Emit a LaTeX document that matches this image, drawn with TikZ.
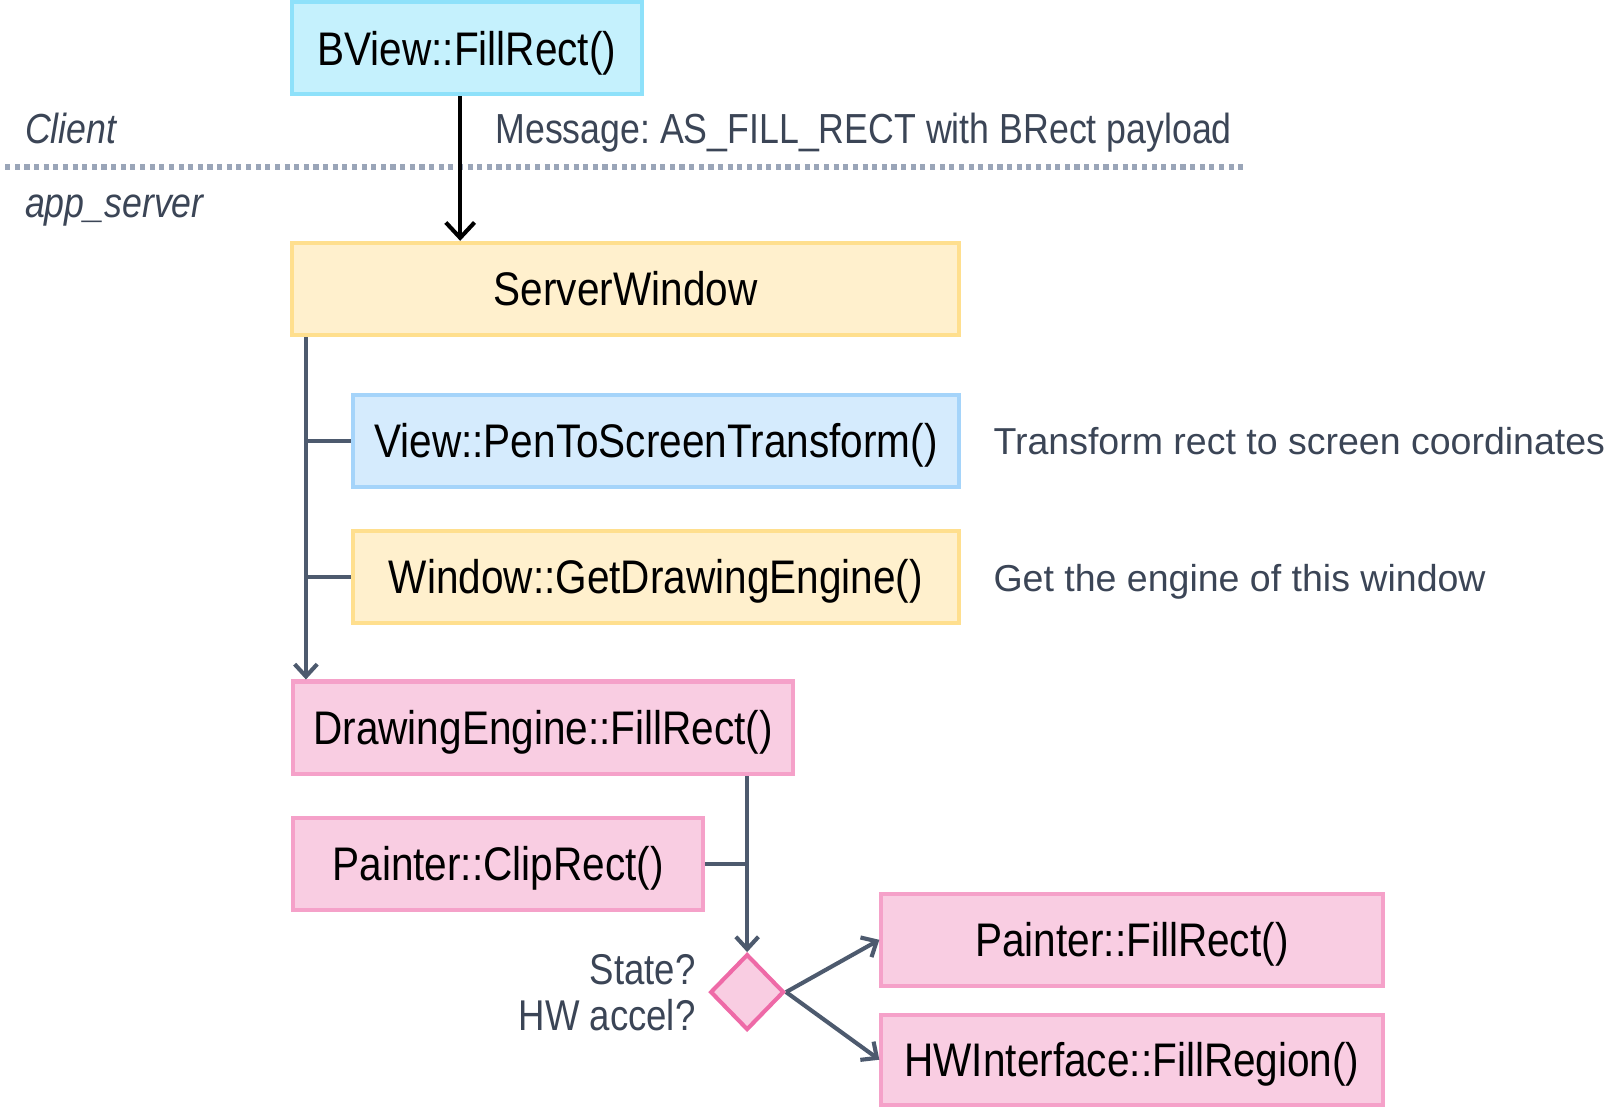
\documentclass[tikz,border=0pt]{standalone}
\usepackage{fontspec}
\usetikzlibrary{arrows.meta,shapes.geometric,calc}
\setmainfont{Liberation Sans}
\newfontfamily\condfont[FakeStretch=0.86]{Liberation Sans}
\newfontfamily\narrowfont[FakeStretch=0.85]{Liberation Sans}
\frenchspacing
\definecolor{txtslate}{HTML}{3B4556}
\definecolor{lineslate}{HTML}{4D5A6E}
\definecolor{dotgray}{HTML}{9AA5B8}
\definecolor{cyanfill}{HTML}{C5F1FD}
\definecolor{cyanline}{HTML}{8EE1FA}
\definecolor{bluefill}{HTML}{D5EBFD}
\definecolor{blueline}{HTML}{A5D4FA}
\definecolor{yelfill}{HTML}{FFF0CD}
\definecolor{yelline}{HTML}{FFDF8E}
\definecolor{pinkfill}{HTML}{F9CDE2}
\definecolor{pinkline}{HTML}{F5A1C9}
\definecolor{diamline}{HTML}{EE6AA7}
\tikzset{
  fnbox/.style={rectangle, line width=2pt, inner sep=0pt, text=black,
    text height=16.5pt, text depth=0pt,
    font=\condfont\fontsize{23}{27}\selectfont},
  cyanbox/.style={fnbox, fill=cyanfill, draw=cyanline},
  bluebox/.style={fnbox, fill=bluefill, draw=blueline},
  yelbox/.style={fnbox, fill=yelfill, draw=yelline},
  pinkbox/.style={fnbox, fill=pinkfill, draw=pinkline},
  lbl/.style={inner sep=0pt, text=txtslate, font=\narrowfont\fontsize{20.5}{24}\selectfont},
  qlbl/.style={inner sep=0pt, text=txtslate, font=\narrowfont\fontsize{21}{25}\selectfont},
  ilbl/.style={inner sep=0pt, text=txtslate, font=\narrowfont\itshape\fontsize{20.5}{24}\selectfont},
  note/.style={inner sep=0pt, text=txtslate, font=\fontsize{18.3}{22}\selectfont},
  blkarrow/.style={draw=black, line width=2pt, -{Straight Barb[length=7.5pt,width=14pt]}},
  grline/.style={draw=lineslate, line width=2pt},
  grarrow/.style={grline, -{Straight Barb[length=6pt,width=11pt]}},
  dotline/.style={draw=dotgray, line width=2.5pt, dash pattern=on 2.5pt off 2.2pt},
}
\begin{document}
\begin{tikzpicture}[x=0.5pt,y=-0.5pt]
\useasboundingbox (0,0) rectangle (1568,1080);
% boxes
\node[cyanbox, minimum width=170.5pt, minimum height=45pt] (bview) at (455.5,47) {BView::FillRect()};
\node[yelbox, minimum width=325.5pt, minimum height=45pt] (server) at (610.5,282) {ServerWindow};
\node[bluebox, minimum width=296pt, minimum height=45pt] (view) at (640,430) {View::PenToScreenTransform()};
\node[yelbox, minimum width=296pt, minimum height=45pt] (window) at (640,563) {Window::GetDrawingEngine()};
\node[pinkbox, minimum width=244pt, minimum height=45pt] (de) at (530,710) {DrawingEngine::FillRect()};
\node[pinkbox, minimum width=200pt, minimum height=45pt] (clip) at (486,843) {Painter::ClipRect()};
\node[pinkbox, minimum width=244.5pt, minimum height=45pt] (pfill) at (1104.5,917) {Painter::FillRect()};
\node[pinkbox, minimum width=244.5pt, minimum height=44pt] (hw) at (1104.5,1034) {HWInterface::FillRegion()};
\node[diamond, aspect=1, draw=diamline, fill=pinkfill, line width=2pt, inner sep=0pt,
      minimum width=36pt, minimum height=37pt] (dec) at (729,968) {};
% labels
\node[ilbl, anchor=base west] (client) at (24,140) {Client};
\node[ilbl, anchor=base west] (appsrv) at (24,212) {app\_server};
\node[lbl, anchor=base west] (msg) at (483,140) {Message: AS\_FILL\_RECT with BRect payload};
\node[note, anchor=base west] (n1) at (969,443) {Transform rect to screen coordinates};
\node[note, anchor=base west] (n2) at (969,577) {Get the engine of this window};
\node[qlbl, anchor=base east] (st) at (679,961) {State?};
\node[qlbl, anchor=base east] (hwq) at (679,1005) {HW accel?};
% dotted separator
\coordinate (dl) at (5,163);
\coordinate (dr) at (1215,163);
\draw[dotline] (dl) -- (dr);
% connectors
\draw[blkarrow] ([xshift=-3.25pt]bview.south) -- ([xshift=-3.25pt]bview.south |- server.north);
\coordinate (trunk) at ([xshift=7.75pt]server.south west);
\draw[grarrow] (trunk) -- (trunk |- de.north);
\draw[grline] (view.west) -- (view.west -| trunk);
\draw[grline] (window.west) -- (window.west -| trunk);
\draw[grarrow] (de.south -| dec.north) -- (dec.north);
\draw[grline] (clip.east) -- (clip.east -| dec.north);
\draw[grarrow] (dec.east) -- (pfill.west);
\draw[grarrow] (dec.east) -- (hw.west);
\end{tikzpicture}
\end{document}
